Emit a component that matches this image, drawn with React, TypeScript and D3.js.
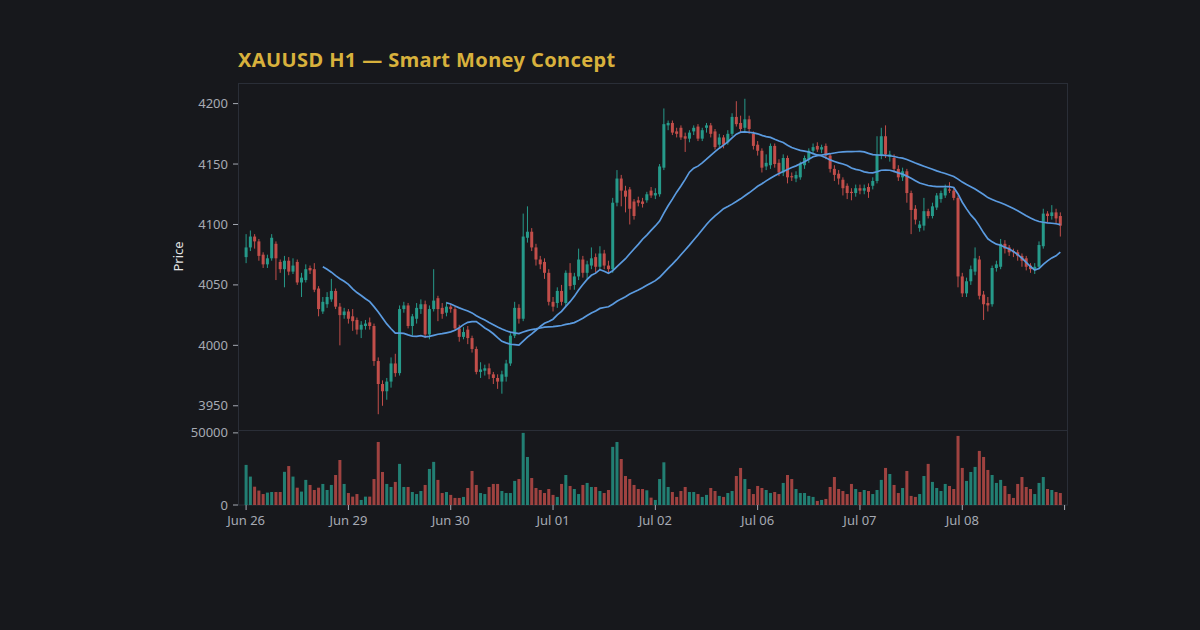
import React from "react";
import * as d3 from "d3";

const opens = [4073,4081,4090,4086,4075,4067,4072,4084,4069,4063,4070,4061,4069,4052,4054,4064,4063,4047,4028,4034,4038,4045,4032,4025,4028,4024,4021,4013,4016,4019,4016,3987,3968,3962,3970,3985,3977,4030,4033,4016,4022,4030,4034,4009,4030,4039,4031,4027,4032,4030,4014,4007,4013,4006,3997,3978,3979,3981,3976,3973,3970,3974,3985,4008,4031,4022,4089,4094,4081,4071,4069,4060,4036,4035,4045,4035,4060,4050,4057,4071,4060,4066,4073,4065,4076,4066,4063,4118,4138,4128,4129,4119,4120,4119,4120,4128,4124,4125,4147,4182,4184,4177,4180,4173,4171,4177,4181,4171,4180,4182,4177,4166,4172,4168,4175,4189,4184,4180,4187,4175,4166,4161,4148,4149,4165,4151,4143,4155,4140,4138,4139,4149,4154,4161,4165,4162,4165,4157,4146,4142,4137,4132,4127,4126,4130,4128,4131,4132,4136,4157,4173,4156,4155,4146,4139,4144,4126,4113,4097,4099,4111,4107,4114,4121,4124,4129,4128,4122,4057,4043,4053,4061,4071,4042,4035,4034,4064,4065,4084,4081,4078,4077,4074,4072,4066,4063,4065,4082,4109,4107,4110,4107];
const highs = [4092,4095,4092,4088,4077,4075,4092,4086,4071,4074,4073,4072,4071,4060,4067,4066,4068,4049,4040,4044,4055,4047,4035,4031,4030,4030,4023,4020,4021,4023,4018,3990,3971,3973,3990,3993,4033,4036,4035,4026,4035,4038,4037,4033,4063,4041,4035,4036,4034,4032,4017,4015,4016,4008,3999,3986,3984,3985,3978,3976,3979,3988,4010,4036,4034,4109,4115,4097,4084,4074,4072,4063,4040,4048,4050,4062,4068,4060,4080,4074,4070,4081,4076,4082,4079,4070,4122,4145,4141,4132,4131,4121,4123,4122,4127,4131,4130,4150,4196,4186,4186,4180,4182,4176,4178,4182,4183,4180,4184,4184,4179,4175,4174,4178,4192,4202,4190,4204,4190,4177,4169,4163,4158,4167,4167,4154,4158,4157,4143,4144,4152,4157,4163,4167,4168,4166,4167,4159,4149,4145,4139,4134,4130,4133,4133,4133,4134,4139,4173,4180,4182,4161,4158,4149,4147,4146,4128,4116,4103,4122,4113,4118,4126,4128,4133,4135,4131,4124,4060,4056,4066,4081,4074,4045,4040,4066,4070,4088,4087,4083,4080,4079,4076,4074,4068,4068,4086,4113,4111,4116,4113,4110];
const lows = [4068,4078,4080,4070,4064,4064,4070,4054,4060,4048,4058,4059,4050,4040,4052,4059,4044,4024,4026,4031,4036,4030,4000,4022,4018,4012,4009,4006,4013,4013,3983,3943,3950,3955,3965,3974,3975,4027,4014,4008,4018,4026,4006,4005,4028,4020,4022,4024,4027,4012,4003,4005,4001,3994,3976,3973,3975,3972,3968,3964,3960,3970,3983,4006,4018,4020,4085,4078,4066,4063,4055,4033,4028,4031,4033,4032,4046,4046,4054,4056,4055,4063,4060,4062,4063,4060,4060,4115,4115,4110,4100,4104,4115,4114,4118,4122,4121,4123,4145,4178,4174,4172,4170,4160,4168,4174,4169,4169,4176,4172,4162,4164,4163,4166,4173,4181,4176,4177,4175,4162,4157,4143,4145,4146,4147,4140,4140,4134,4136,4135,4137,4146,4151,4158,4160,4159,4154,4143,4136,4133,4124,4121,4120,4123,4125,4125,4122,4129,4134,4154,4155,4152,4143,4136,4136,4118,4092,4100,4094,4095,4105,4105,4112,4118,4122,4126,4120,4048,4040,4040,4050,4058,4038,4021,4028,4032,4061,4063,4076,4074,4073,4070,4065,4062,4060,4059,4063,4080,4102,4104,4101,4090];
const closes = [4081,4090,4086,4074,4067,4072,4089,4072,4063,4070,4061,4066,4052,4056,4063,4062,4046,4030,4036,4040,4045,4032,4025,4028,4022,4020,4013,4017,4018,4016,3987,3968,3962,3970,3985,3977,4030,4033,4016,4024,4031,4034,4009,4030,4037,4030,4026,4032,4030,4014,4007,4011,4006,3997,3978,3980,3981,3976,3973,3970,3976,3985,4008,4031,4022,4090,4094,4081,4071,4067,4060,4036,4032,4045,4036,4060,4049,4057,4071,4060,4067,4072,4065,4076,4066,4063,4118,4138,4128,4123,4113,4107,4118,4117,4125,4124,4126,4148,4183,4184,4176,4175,4172,4171,4176,4180,4171,4178,4182,4175,4164,4172,4166,4175,4189,4183,4179,4187,4179,4165,4161,4147,4151,4165,4150,4143,4155,4139,4139,4141,4150,4155,4161,4164,4162,4164,4157,4146,4141,4138,4130,4126,4126,4130,4128,4130,4127,4136,4158,4173,4158,4158,4146,4139,4144,4126,4112,4104,4100,4111,4107,4115,4124,4126,4130,4128,4122,4057,4043,4053,4063,4072,4041,4034,4033,4064,4067,4084,4080,4077,4077,4074,4070,4065,4063,4065,4083,4109,4107,4110,4105,4099];
const volumes = [27800,19700,12700,10000,7600,8600,9000,9000,9000,23000,27000,19700,12000,9300,17400,13900,10400,12000,14600,10400,13900,20800,31200,14600,8300,5800,7600,3500,5800,5800,18000,43700,22900,14600,12500,16000,28500,12500,12500,9000,7600,9700,13900,25000,29900,17400,8300,9000,7000,4900,4900,5600,11800,23600,13900,8300,7600,12500,14600,14600,9700,8300,8300,16700,18000,50000,33300,18700,11800,10400,8300,11100,7000,5600,14600,20800,13200,11100,7600,13900,15300,12500,12500,9700,8300,10400,40300,43700,31900,20100,18000,13900,11100,11100,10200,5100,3500,18000,29600,12500,9000,5600,9700,12500,9000,9000,7600,5600,7000,11800,9700,6300,5600,8300,9700,20100,25700,18000,11100,7600,13200,11800,10400,8300,9000,7600,15300,20800,18000,11100,8300,8300,6300,5600,2800,3500,4200,12500,19400,11100,9700,7600,14600,11100,9000,10400,9700,7600,10400,17400,25700,21500,13900,8300,11800,23600,6300,5600,7600,20100,28500,16000,11800,9700,14600,13200,11100,47900,25700,16700,22900,26400,37500,33300,24300,20800,15300,17400,13200,7600,4900,14600,19400,12500,11100,7600,15300,19400,11100,10400,9000,8300];

const dayLabels = ["Jun 26", "Jun 29", "Jun 30", "Jul 01", "Jul 02", "Jul 06", "Jul 07", "Jul 08"];
const barsPerDay = 24;
const maPeriods = [19, 48];
const priceTicks = [3950, 4000, 4050, 4100, 4150, 4200];
const volumeTicks = [0, 50000];

const BG = "#17181c";
const FRAME = "#2a2e37";
const UP = "#269a8a";
const DOWN = "#c24e4a";
const MA = "#5b9be0";
const TICK = "#a6aab3";

function sma(values: number[], n: number) {
  const out: { i: number; v: number }[] = [];
  for (let i = n - 1; i < values.length; i++) {
    let s = 0;
    for (let k = i - n + 1; k <= i; k++) s += values[k];
    out.push({ i, v: s / n });
  }
  return out;
}

export default function App() {
  const left = 238, right = 1068, top = 83, priceBottom = 430, volBottom = 505;
  const x = d3.scaleLinear().domain([-1.9, 192.8]).range([left, right]);
  const lo = d3.min(lows) as number;
  const hi = d3.max(highs) as number;
  const pad = (hi - lo) * 0.05;
  const y = d3.scaleLinear().domain([lo - pad, hi + pad]).range([priceBottom, top]);
  const vMax = d3.max(volumes) as number;
  const yv = d3.scaleLinear().domain([0, vMax * 1.04]).range([volBottom, priceBottom]);
  const bw = 3;
  const line = d3.line<{ i: number; v: number }>().x((d) => x(d.i)).y((d) => y(d.v));
  const dayTicks = d3.range(0, dayLabels.length + 1).map((k) => k * barsPerDay);
  const font = "'Noto Sans', 'Open Sans', sans-serif";

  return (
    <svg width={1200} height={630} style={{ position: "absolute", left: 0, top: 0, display: "block" }} fontFamily={font}>
      <rect x={0} y={0} width={1200} height={630} fill={BG} />
      <text x={238} y={67} fill="#d8b13c" fontSize={20} fontWeight={700} letterSpacing={0.4} fontFamily={font}>
        XAUUSD H1 — Smart Money Concept
      </text>
      <rect x={left + 0.5} y={top + 0.5} width={right - left - 1} height={priceBottom - top} fill="none" stroke={FRAME} />
      <rect x={left + 0.5} y={priceBottom + 0.5} width={right - left - 1} height={volBottom - priceBottom - 0.5} fill="none" stroke={FRAME} />
      {priceTicks.map((t) => (
        <g key={t}>
          <line x1={left - 5} x2={left} y1={y(t)} y2={y(t)} stroke={TICK} />
          <text x={left - 10} y={y(t)} dy="0.35em" textAnchor="end" fill={TICK} fontSize={13}>{t}</text>
        </g>
      ))}
      <text transform={`translate(183,${(top + priceBottom) / 2}) rotate(-90)`} textAnchor="middle" fill="#e4e4e4" fontSize={13}>Price</text>
      {volumeTicks.map((t) => (
        <g key={t}>
          <line x1={left - 5} x2={left} y1={yv(t)} y2={yv(t)} stroke={TICK} />
          <text x={left - 10} y={yv(t)} dy="0.35em" textAnchor="end" fill={TICK} fontSize={13}>{t}</text>
        </g>
      ))}
      {dayTicks.map((t, k) => (
        <g key={t}>
          <line x1={x(t)} x2={x(t)} y1={volBottom} y2={volBottom + 5} stroke={TICK} />
          {dayLabels[k] ? (
            <text x={x(t)} y={volBottom + 20} textAnchor="middle" fill={TICK} fontSize={13}>{dayLabels[k]}</text>
          ) : null}
        </g>
      ))}
      {closes.map((c, i) => {
        const o = opens[i];
        const col = c >= o ? UP : DOWN;
        const yTop = y(Math.max(o, c));
        const yBot = y(Math.min(o, c));
        return (
          <g key={i}>
            <line x1={x(i)} x2={x(i)} y1={y(highs[i])} y2={y(lows[i])} stroke={col} strokeWidth={1} />
            <rect x={x(i) - bw / 2} y={yTop} width={bw} height={Math.max(1, yBot - yTop)} fill={col} />
          </g>
        );
      })}
      {volumes.map((v, i) => (
        <rect key={i} x={x(i) - bw / 2} y={yv(v)} width={bw} height={yv(0) - yv(v)} fill={closes[i] >= opens[i] ? UP : DOWN} opacity={0.8} />
      ))}
      {maPeriods.map((p) => (
        <path key={p} d={line(sma(closes, p)) || ""} fill="none" stroke={MA} strokeWidth={1.7} />
      ))}
    </svg>
  );
}
